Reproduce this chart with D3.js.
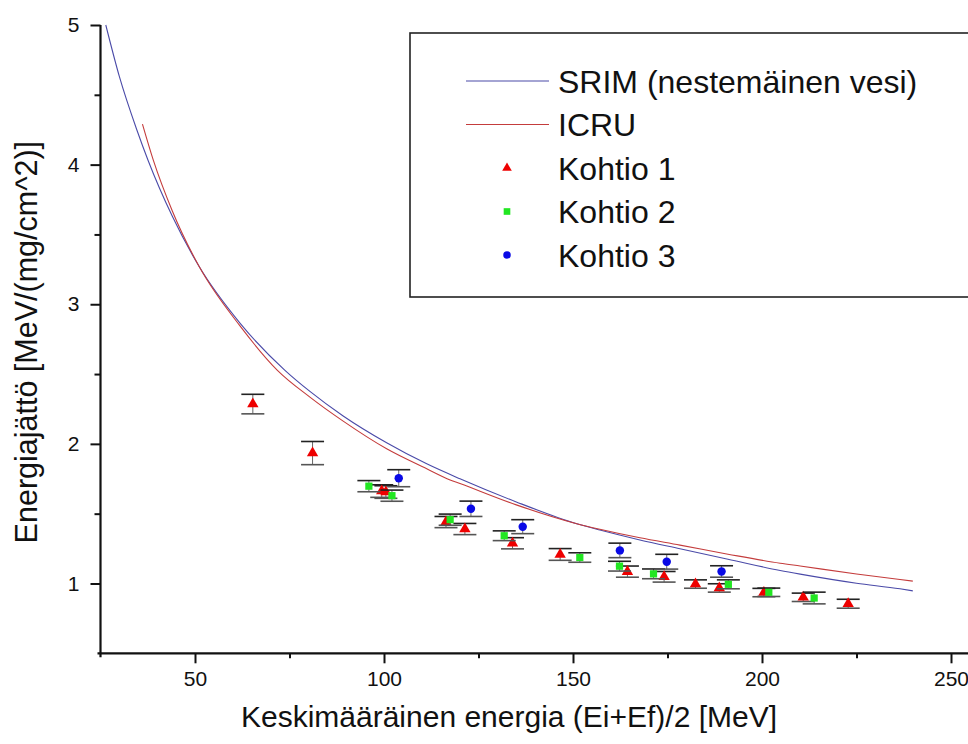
<!DOCTYPE html>
<html><head><meta charset="utf-8">
<script src="https://cdn.jsdelivr.net/npm/d3@7"></script>
<style>
body{margin:0;background:#fff}
svg{display:block}
text{font-family:"Liberation Sans",Arial,sans-serif}
</style>
</head><body>
<svg id="chart" width="968" height="744"></svg>
<script>
// ---- data ----
const srimE = [26.4, 30, 34.6, 37.6, 44, 51.1, 61.9, 73.8, 80.4, 89.2, 100.7, 111.3, 120.1, 135, 151, 157.1, 167.7, 178.3, 191, 204.8, 210.1, 225, 236.5, 239.9];
const srimS = [5.00, 4.63, 4.25, 4.03, 3.63, 3.27, 2.865, 2.527, 2.376, 2.20, 2.008, 1.857, 1.75, 1.584, 1.428, 1.383, 1.312, 1.249, 1.174, 1.093, 1.067, 1.002, 0.962, 0.947];
const icruE = [36.1, 38.97, 44, 51.1, 61.9, 71.8, 80.4, 89.2, 100.7, 111.3, 117.5, 120.1, 135, 151, 157.1, 167.7, 178.3, 191, 204.8, 210.1, 225, 236.5, 239.9];
const icruS = [4.29, 4.032, 3.668, 3.27, 2.845, 2.527, 2.335, 2.163, 1.965, 1.822, 1.742, 1.716, 1.563, 1.428, 1.388, 1.327, 1.275, 1.21, 1.145, 1.125, 1.068, 1.028, 1.017];

const k1E   = [65.3, 81.1, 99.4, 100.5, 116.4, 121.4, 134.0, 146.6, 164.4, 174.1, 182.4, 188.7, 200.5, 210.9, 222.8];
const k1S   = [2.285, 1.934, 1.662, 1.655, 1.44, 1.39, 1.288, 1.208, 1.085, 1.048, 0.996, 0.968, 0.935, 0.901, 0.855];
const k1Err = [0.07, 0.083, 0.045, 0.045, 0.04, 0.04, 0.04, 0.042, 0.04, 0.038, 0.03, 0.03, 0.03, 0.03, 0.032];

const k2E   = [96.0, 102.1, 117.5, 131.8, 151.8, 162.3, 171.3, 191.1, 201.8, 213.8];
const k2S   = [1.697, 1.629, 1.457, 1.342, 1.186, 1.124, 1.069, 0.994, 0.937, 0.896];
const k2Err = [0.04, 0.04, 0.04, 0.035, 0.034, 0.035, 0.035, 0.032, 0.03, 0.042];

const k3E   = [103.9, 123.0, 136.7, 162.4, 174.8, 189.3];
const k3S   = [1.754, 1.535, 1.407, 1.237, 1.156, 1.086];
const k3Err = [0.061, 0.055, 0.05, 0.052, 0.053, 0.041];

const xMajorTicks = [50, 100, 150, 200, 250];
const xMinorTicks = [75, 125, 175, 225];
const yMajorTicks = [1, 2, 3, 4, 5];
const yMinorTicks = [1.5, 2.5, 3.5, 4.5];

const xTitle = "Keskimääräinen energia (Ei+Ef)/2 [MeV]";
const yTitle = "Energiajättö [MeV/(mg/cm^2)]";
const legendLabels = ["SRIM (nestemäinen vesi)", "ICRU", "Kohtio 1", "Kohtio 2", "Kohtio 3"];

// ---- drawing ----
const W = 968, H = 744;
const svg = d3.select("#chart");
const x = d3.scaleLinear().domain([25, 250]).range([100.5, 951]);
const y = d3.scaleLinear().domain([0.5, 5]).range([653.3, 25]);

const ink = "#111";
const fontTick = 21;

// axes lines
svg.append("line").attr("x1", x(25) - 3).attr("x2", W).attr("y1", y(0.5)).attr("y2", y(0.5))
  .attr("stroke", ink).attr("stroke-width", 2.2);
svg.append("line").attr("x1", x(25)).attr("x2", x(25)).attr("y1", y(5)).attr("y2", y(0.5) + 4)
  .attr("stroke", ink).attr("stroke-width", 2.2);

function styleAxis(g){
  g.select(".domain").remove();
  g.selectAll("line").attr("stroke", ink).attr("stroke-width", 2);
  g.selectAll("text").attr("fill", ink).attr("font-size", fontTick).attr("font-family", '"Liberation Sans", Arial, sans-serif');
}
svg.append("g").attr("transform", `translate(0,${y(0.5)})`)
  .call(d3.axisBottom(x).tickValues(xMajorTicks).tickSize(10).tickPadding(8).tickFormat(d3.format("d")))
  .call(styleAxis);
svg.append("g").attr("transform", `translate(0,${y(0.5)})`)
  .call(d3.axisBottom(x).tickValues(xMinorTicks).tickSize(5).tickFormat(""))
  .call(styleAxis);
svg.append("g").attr("transform", `translate(${x(25)},0)`)
  .call(d3.axisLeft(y).tickValues(yMajorTicks).tickSize(10).tickPadding(11).tickFormat(d3.format("d")))
  .call(styleAxis);
svg.append("g").attr("transform", `translate(${x(25)},0)`)
  .call(d3.axisLeft(y).tickValues(yMinorTicks).tickSize(6).tickFormat(""))
  .call(styleAxis);

// axis titles
svg.append("text").attr("x", 509).attr("y", 727).attr("text-anchor", "middle")
  .attr("font-size", 30).attr("fill", ink).text(xTitle);
svg.append("text").attr("transform", `translate(37,${(y(5)+y(0.5))/2 + 3}) rotate(-90)`)
  .attr("text-anchor", "middle").attr("font-size", 30.5).attr("fill", ink).text(yTitle);

// curves
const line = d3.line().x(d => x(d[0])).y(d => y(d[1])).curve(d3.curveMonotoneX);
const srimColor = "#4a4aa8", icruColor = "#c43c3c";
svg.append("path").datum(srimE.map((e, i) => [e, srimS[i]]))
  .attr("d", line).attr("fill", "none").attr("stroke", srimColor).attr("stroke-width", 1.1);
svg.append("path").datum(icruE.map((e, i) => [e, icruS[i]]))
  .attr("d", line).attr("fill", "none").attr("stroke", icruColor).attr("stroke-width", 1.1);

// data series
const series = [
  {E: k1E, S: k1S, err: k1Err, shape: d3.symbolTriangle, size: 56, color: "#ee0000"},
  {E: k2E, S: k2S, err: k2Err, shape: d3.symbolSquare, size: 52, color: "#22e622"},
  {E: k3E, S: k3S, err: k3Err, shape: d3.symbolCircle, size: 56, color: "#0a0ae6"}
];
const capHalf = 11.5;
series.forEach(s => {
  const pts = s.E.map((e, i) => ({e, v: s.S[i], err: s.err[i]}));
  const g = svg.append("g");
  const eb = g.selectAll(".eb").data(pts).join("g");
  eb.append("line").attr("x1", d => x(d.e)).attr("x2", d => x(d.e))
    .attr("y1", d => y(d.v + d.err)).attr("y2", d => y(d.v - d.err))
    .attr("stroke", "#666").attr("stroke-width", 1);
  eb.append("line").attr("x1", d => x(d.e) - capHalf).attr("x2", d => x(d.e) + capHalf)
    .attr("y1", d => y(d.v + d.err)).attr("y2", d => y(d.v + d.err))
    .attr("stroke", "#222").attr("stroke-width", 1.6);
  eb.append("line").attr("x1", d => x(d.e) - capHalf).attr("x2", d => x(d.e) + capHalf)
    .attr("y1", d => y(d.v - d.err)).attr("y2", d => y(d.v - d.err))
    .attr("stroke", "#555").attr("stroke-width", 1.6);
  g.selectAll(".m").data(pts).join("path")
    .attr("transform", d => `translate(${x(d.e)},${y(d.v)})`)
    .attr("d", d3.symbol().type(s.shape).size(s.size)).attr("fill", s.color);
});

// legend
const lg = svg.append("g");
lg.append("rect").attr("x", 410).attr("y", 33).attr("width", 600).attr("height", 264)
  .attr("fill", "#fff").attr("stroke", "#222").attr("stroke-width", 1.6);
const ly = d3.scalePoint().domain(legendLabels).range([81, 255]);
const legendItems = [
  {type: "line", color: srimColor},
  {type: "line", color: icruColor},
  {type: "sym", shape: d3.symbolTriangle, size: 40, color: "#ee0000"},
  {type: "sym", shape: d3.symbolSquare, size: 44, color: "#22e622"},
  {type: "sym", shape: d3.symbolCircle, size: 44, color: "#0a0ae6"}
];
legendLabels.forEach((lab, i) => {
  const it = legendItems[i];
  const yy = ly(lab);
  if (it.type === "line") {
    lg.append("line").attr("x1", 466).attr("x2", 549).attr("y1", yy).attr("y2", yy)
      .attr("stroke", it.color).attr("stroke-width", 1.1);
  } else {
    lg.append("path").attr("transform", `translate(507,${yy})`)
      .attr("d", d3.symbol().type(it.shape).size(it.size)).attr("fill", it.color);
  }
  lg.append("text").attr("x", 558).attr("y", yy).attr("dy", "0.36em")
    .attr("font-size", 32).attr("fill", ink).text(lab);
});
</script>
</body></html>
